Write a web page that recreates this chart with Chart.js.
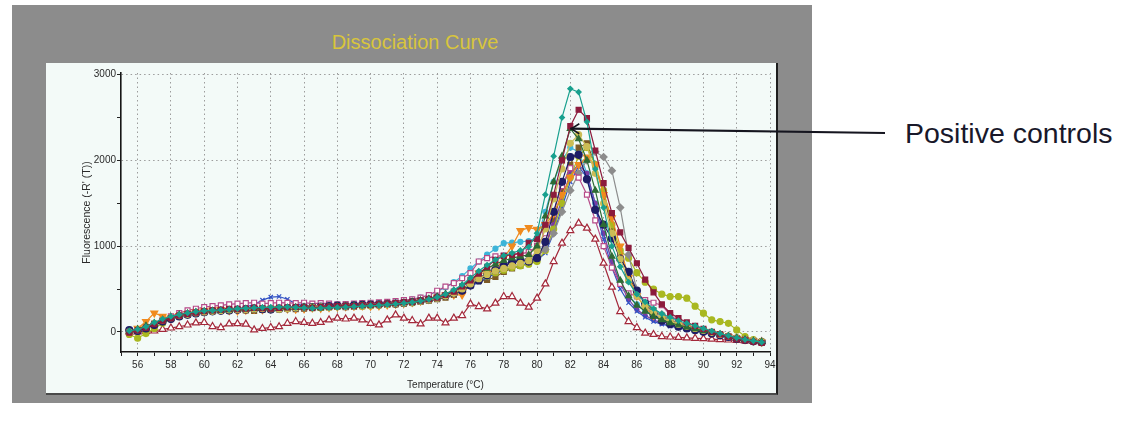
<!DOCTYPE html>
<html>
<head>
<meta charset="utf-8">
<title>Dissociation Curve</title>
<script src="https://cdn.jsdelivr.net/npm/chart.js@4/dist/chart.umd.min.js"></script>
<style>
  html, body { margin: 0; padding: 0; background: #ffffff; }
  body { width: 1123px; height: 432px; position: relative; overflow: hidden;
         font-family: "Liberation Sans", Arial, sans-serif; }
  #frame { position: absolute; left: 12px; top: 5px; width: 800px; height: 398px; background: #8c8c8c; }
  #panel { position: absolute; left: 46px; top: 63px; width: 730px; height: 330px;
           background: #f3faf8; border-right: 2px solid #1e1e1e; border-bottom: 2px solid #4a4a4a; }
  #title { position: absolute; left: 0; top: 30px; width: 830px; text-align: center;
           font-size: 20px; line-height: 24px; color: #d8c53c; }
  #note { position: absolute; left: 905px; top: 119px; font-size: 28.5px; line-height: 28.5px;
          color: #18182a; white-space: nowrap; }
  #chart { position: absolute; left: 0; top: 0; z-index: 2; }
</style>
</head>
<body>
<div id="frame"></div>
<div id="panel"></div>
<div id="title">Dissociation Curve</div>
<div id="note">Positive controls</div>
<canvas id="chart" width="1123" height="432"></canvas>
<script>
// Temperature readings (°C), one every half degree
const temps = [
  55.5, 56, 56.5, 57, 57.5, 58, 58.5, 59, 59.5, 60,
  60.5, 61, 61.5, 62, 62.5, 63, 63.5, 64, 64.5, 65,
  65.5, 66, 66.5, 67, 67.5, 68, 68.5, 69, 69.5, 70,
  70.5, 71, 71.5, 72, 72.5, 73, 73.5, 74, 74.5, 75,
  75.5, 76, 76.5, 77, 77.5, 78, 78.5, 79, 79.5, 80,
  80.5, 81, 81.5, 82, 82.5, 83, 83.5, 84, 84.5, 85,
  85.5, 86, 86.5, 87, 87.5, 88, 88.5, 89, 89.5, 90,
  90.5, 91, 91.5, 92, 92.5, 93, 93.5
];

// Fluorescence -R'(T) per well
const wellTeal = [
  10, 30, 60, 110, 150, 180, 200, 220, 235, 245,
  250, 255, 262, 270, 275, 280, 285, 288, 290, 292,
  285, 280, 275, 278, 282, 285, 290, 295, 300, 305,
  310, 318, 325, 335, 345, 360, 380, 405, 440, 490,
  550, 630, 710, 780, 840, 890, 920, 950, 990, 1150,
  1600, 2050, 2500, 2836, 2797, 2450, 1900, 1450, 1000, 760,
  580, 440, 350, 270, 210, 170, 130, 100, 70, 40,
  10, -20, -45, -70, -90, -105, -120
];
const wellMaroon = [
  -10, 20, 50, 90, 130, 160, 190, 210, 225, 240,
  250, 260, 270, 265, 270, 280, 275, 270, 280, 285,
  290, 285, 280, 290, 295, 300, 305, 300, 310, 315,
  320, 330, 335, 345, 350, 365, 380, 400, 430, 470,
  530, 600, 680, 760, 840, 887, 900, 918, 1040, 1082,
  1250, 1600, 2000, 2400, 2591, 2494, 2116, 1735, 1385, 1160,
  980, 800, 610, 460, 320, 220, 160, 110, 70, 35,
  0, -30, -55, -80, -100, -115, -130
];
const wellGreen = [
  5, 30, 70, 100, 140, 170, 200, 215, 230, 240,
  245, 250, 255, 262, 268, 275, 270, 265, 272, 280,
  285, 290, 285, 280, 290, 298, 300, 305, 310, 312,
  318, 325, 330, 340, 350, 365, 385, 410, 440, 480,
  540, 610, 680, 740, 790, 830, 860, 880, 900, 1000,
  1350, 1750, 2050, 2370, 2250, 2000, 1650, 1250, 880, 600,
  420, 310, 240, 180, 140, 105, 80, 55, 35, 15,
  -10, -30, -50, -70, -90, -105, -115
];
const wellKhaki = [
  0, 25, 60, 100, 135, 165, 190, 205, 220, 232,
  240, 248, 255, 258, 262, 268, 272, 270, 265, 270,
  278, 282, 288, 292, 288, 295, 300, 298, 305, 310,
  315, 320, 328, 336, 345, 358, 372, 392, 418, 450,
  500, 560, 620, 670, 710, 740, 770, 800, 830, 950,
  1200, 1550, 1900, 2200, 2300, 2162, 1850, 1500, 1150, 850,
  600, 420, 300, 220, 160, 120, 90, 65, 40, 20,
  -5, -30, -50, -70, -90, -100, -115
];
const wellNavy = [
  20, 10, 40, 80, 120, 150, 180, 200, 215, 230,
  240, 245, 250, 258, 262, 270, 265, 260, 268, 275,
  280, 285, 290, 295, 300, 305, 300, 310, 315, 318,
  320, 325, 330, 338, 348, 360, 375, 395, 420, 450,
  480, 540, 600, 660, 720, 770, 810, 830, 820, 860,
  1050, 1400, 1750, 2040, 2065, 1780, 1424, 1250, 1090, 850,
  700, 480, 330, 200, 130, 90, 60, 40, 20, 0,
  -20, -40, -60, -80, -95, -110, -120
];
const wellOrange = [
  0, 40, 120, 220, 180, 160, 190, 210, 230, 245,
  255, 260, 250, 245, 255, 265, 260, 270, 275, 270,
  265, 270, 280, 275, 285, 290, 295, 300, 305, 300,
  305, 315, 325, 335, 345, 360, 380, 405, 430, 432,
  432, 560, 685, 688, 720, 860, 1000, 1180, 1215, 1195,
  1250, 1380, 1600, 1800, 1950, 2038, 1949, 1600, 1330, 1000,
  630, 420, 280, 190, 140, 100, 70, 50, 25, 5,
  -15, -35, -55, -75, -90, -105, -120
];
const wellPink = [
  0, 30, 60, 100, 140, 180, 220, 250, 270, 290,
  300, 310, 320, 330, 335, 340, 330, 335, 340, 338,
  335, 340, 330, 335, 330, 320, 325, 330, 335, 340,
  345, 350, 360, 370, 380, 400, 430, 480, 529, 568,
  626, 685, 821, 860, 880, 890, 900, 910, 930, 1000,
  1150, 1400, 1700, 1910, 1800, 1600, 1300, 1000, 750, 560,
  450, 412, 370, 340, 310, 200, 120, 80, 50, 20,
  -10, -35, -55, -75, -90, -105, -120
];
const wellGray = [
  0, 20, 50, 90, 130, 160, 190, 205, 220, 235,
  245, 255, 260, 265, 270, 265, 260, 270, 275, 280,
  285, 280, 290, 295, 290, 300, 305, 300, 310, 315,
  320, 325, 330, 340, 350, 360, 375, 395, 420, 450,
  500, 560, 620, 680, 730, 770, 800, 830, 850, 900,
  960, 1150, 1400, 1650, 1850, 2000, 2100, 2040, 1880, 1450,
  900, 480, 330, 240, 205, 150, 100, 70, 45, 20,
  -5, -30, -50, -70, -90, -105, -115
];
const wellLime = [
  -30, -74, -20, 40, 100, 150, 180, 200, 220, 235,
  240, 250, 255, 260, 255, 265, 270, 275, 270, 275,
  280, 285, 290, 285, 290, 295, 300, 305, 300, 305,
  310, 320, 325, 330, 340, 355, 370, 390, 420, 450,
  500, 550, 600, 650, 690, 720, 750, 770, 790, 820,
  950, 1200, 1500, 1800, 2050, 2150, 1950, 1650, 1250, 950,
  860, 690, 580, 500, 440, 412, 412, 393, 300, 218,
  140, 120, 100, 23, -55, -90, -110
];
const wellRed = [
  0, 0, 5, 10, 30, 45, 60, 80, 105, 109,
  62, 50, 93, 95, 90, 23, 40, 50, 60, 100,
  120, 110, 100, 110, 140, 160, 150, 160, 140, 100,
  82, 140, 198, 160, 132, 93, 160, 160, 105, 160,
  190, 327, 295, 268, 335, 412, 412, 335, 288, 393,
  560, 820, 1035, 1182, 1268, 1210, 1082, 801, 521, 237,
  120, 50, -15, -30, -55, -60, -65, -70, -75, -80,
  -85, -90, -95, -100, -105, -110, -115
];
const wellBlue = [
  10, 30, 60, 100, 140, 170, 190, 210, 225, 240,
  250, 255, 260, 270, 290, 320, 370, 405, 412, 380,
  330, 300, 290, 285, 290, 295, 290, 300, 305, 300,
  305, 310, 320, 330, 340, 350, 365, 385, 410, 440,
  480, 530, 580, 630, 680, 720, 750, 780, 800, 830,
  920, 1150, 1450, 1750, 1930, 1800, 1450, 1080, 750, 500,
  340, 240, 170, 120, 90, 65, 45, 30, 15, 0,
  -20, -40, -60, -80, -95, -110, -120
];
const wellPurple = [
  0, 25, 55, 95, 135, 165, 195, 210, 225, 240,
  245, 250, 258, 262, 270, 272, 280, 285, 278, 270,
  275, 280, 290, 285, 280, 290, 295, 300, 298, 305,
  310, 315, 322, 330, 340, 352, 368, 390, 420, 455,
  500, 560, 620, 680, 740, 790, 820, 835, 840, 880,
  1000, 1250, 1550, 1850, 1950, 1850, 1500, 1150, 820, 560,
  380, 260, 190, 140, 100, 75, 50, 30, 12, -5,
  -25, -45, -62, -80, -95, -108, -120
];
const wellBrown = [
  -10, 10, 40, 80, 120, 150, 180, 200, 215, 230,
  240, 245, 250, 255, 250, 245, 255, 260, 265, 270,
  265, 270, 275, 280, 285, 290, 288, 295, 300, 305,
  310, 315, 320, 330, 340, 350, 365, 380, 400, 430,
  480, 540, 590, 605, 640, 700, 740, 770, 800, 850,
  1000, 1300, 1650, 1950, 2150, 2200, 1950, 1600, 1200, 900,
  650, 470, 340, 250, 190, 140, 100, 70, 45, 20,
  -5, -30, -55, -75, -95, -110, -125
];
const wellSky = [
  5, 25, 55, 90, 130, 160, 185, 205, 220, 235,
  245, 250, 255, 262, 265, 270, 272, 275, 280, 278,
  275, 280, 285, 290, 295, 300, 305, 310, 315, 320,
  325, 335, 345, 360, 380, 400, 430, 470, 520, 580,
  650, 740, 820, 900, 970, 1035, 1040, 1050, 1060, 1100,
  1400, 1750, 2000, 2150, 2100, 1850, 1500, 1150, 820, 580,
  420, 320, 250, 200, 160, 120, 90, 65, 40, 15,
  -10, -35, -55, -75, -90, -105, -115
];

// Axis ticks: every degree / every 500 units, labels on the major ones
const xTickMarks = [
  55, 56, 57, 58, 59, 60, 61, 62, 63, 64, 65, 66, 67, 68, 69, 70, 71, 72, 73, 74,
  75, 76, 77, 78, 79, 80, 81, 82, 83, 84, 85, 86, 87, 88, 89, 90, 91, 92, 93, 94
];
const xTickLabels = [56, 58, 60, 62, 64, 66, 68, 70, 72, 74, 76, 78, 80, 82, 84, 86, 88, 90, 92, 94];
const yTickMarks = [0, 500, 1000, 1500, 2000, 2500, 3000];
const yTickLabels = [0, 1000, 2000, 3000];

// Well styles: [values, line/marker colour, marker, fill, radius, rotation]
const wells = [
  [wellTeal,   '#18a08e', 'rectRot',  true,  2.5, 0],
  [wellMaroon, '#8c1b3c', 'rect',     true,  3.5, 0],
  [wellGreen,  '#2e6b35', 'triangle', true,  3.5, 0],
  [wellKhaki,  '#cbbd55', 'circle',   true,  3,   0],
  [wellNavy,   '#1d1d66', 'circle',   true,  3.5, 0],
  [wellOrange, '#f08a1e', 'triangle', true,  4,   180],
  [wellPink,   '#b64a88', 'rect',     false, 3.5, 0],
  [wellGray,   '#8c8c8c', 'rectRot',  true,  3.5, 0],
  [wellLime,   '#a9b820', 'circle',   true,  3,   0],
  [wellRed,    '#a3283a', 'triangle', false, 4,   0],
  [wellBlue,   '#3050c4', 'crossRot', false, 3,   0],
  [wellPurple, '#7a3ca2', 'circle',   true,  2,   0],
  [wellBrown,  '#7b5a26', 'rect',     true,  3.5, 0],
  [wellSky,    '#3cb4d8', 'circle',   true,  2.5, 0]
];

// Peak pointed out by the callout
const calloutTemp = temps[53];
const calloutValue = wellGreen[53];

const datasets = wells.map(([vals, color, marker, filled, radius, rot]) => ({
  data: vals.map((v, i) => ({ x: temps[i], y: v })),
  borderColor: color,
  borderWidth: 1.2,
  pointStyle: marker,
  pointRotation: rot,
  pointRadius: radius,
  pointBorderWidth: 1.2,
  pointBorderColor: color,
  pointBackgroundColor: filled ? color : '#ffffff',
  tension: 0,
  fill: false
}));

const calloutLine = {
  id: 'calloutLine',
  afterDraw(chart) {
    const { ctx, scales } = chart;
    const px = scales.x.getPixelForValue(calloutTemp);
    const py = scales.y.getPixelForValue(calloutValue);
    ctx.save();
    ctx.strokeStyle = '#15151f';
    ctx.lineWidth = 2.2;
    ctx.beginPath();
    ctx.moveTo(px, py);
    ctx.lineTo(885, 133);
    ctx.stroke();
    ctx.lineWidth = 1.6;
    ctx.beginPath();
    ctx.moveTo(px + 9, py - 5);
    ctx.lineTo(px + 1, py);
    ctx.lineTo(px + 9, py + 5);
    ctx.stroke();
    ctx.restore();
  }
};

const fontFamily = '"Liberation Sans", Arial, sans-serif';
const tickFont = { family: fontFamily, size: 10 };

new Chart(document.getElementById('chart'), {
  type: 'line',
  data: { datasets },
  options: {
    responsive: false,
    animation: false,
    devicePixelRatio: 1,
    layout: { padding: { left: 45, right: 353, top: 73, bottom: 32 } },
    plugins: { legend: { display: false }, tooltip: { enabled: false }, title: { display: false } },
    scales: {
      x: {
        type: 'linear',
        min: 55,
        max: 94,
        afterBuildTicks: (s) => { s.ticks = xTickMarks.map(v => ({ value: v })); },
        afterFit: (s) => { s.height = 48; s.paddingLeft = 0; s.paddingRight = 0; },
        ticks: {
          autoSkip: false,
          maxRotation: 0,
          padding: 3,
          color: '#2a2a2a',
          font: tickFont,
          callback: (v) => xTickLabels.includes(v) ? String(v) : ''
        },
        grid: {
          color: (c) => (c.tick && xTickLabels.includes(c.tick.value)) ? '#9c9c9c' : 'rgba(0,0,0,0)',
          lineWidth: 1,
          tickColor: '#222',
          tickLength: 4
        },
        border: { display: true, color: '#151515', width: 1.6, dash: [1.5, 3] },
        title: {
          display: true,
          text: 'Temperature (°C)',
          color: '#2a2a2a',
          font: { family: fontFamily, size: 10 },
          padding: { top: 0, bottom: 9 }
        }
      },
      y: {
        type: 'linear',
        min: -235,
        max: 3020,
        afterBuildTicks: (s) => { s.ticks = yTickMarks.map(v => ({ value: v })); },
        afterFit: (s) => { s.width = 76; s.paddingTop = 0; s.paddingBottom = 0; },
        ticks: {
          autoSkip: false,
          padding: 1,
          color: '#2a2a2a',
          font: tickFont,
          callback: (v) => yTickLabels.includes(v) ? String(v) : ''
        },
        grid: {
          color: (c) => (c.tick && yTickLabels.includes(c.tick.value)) ? '#9c9c9c' : 'rgba(0,0,0,0)',
          lineWidth: 1,
          tickColor: '#222',
          tickLength: 4
        },
        border: { display: true, color: '#151515', width: 1.6, dash: [1.5, 3] },
        title: {
          display: true,
          text: "Fluorescence (-R' (T))",
          color: '#2a2a2a',
          font: { family: fontFamily, size: 10.5 },
          padding: { top: 36, bottom: 0 }
        }
      }
    }
  },
  plugins: [calloutLine]
});
</script>
</body>
</html>
